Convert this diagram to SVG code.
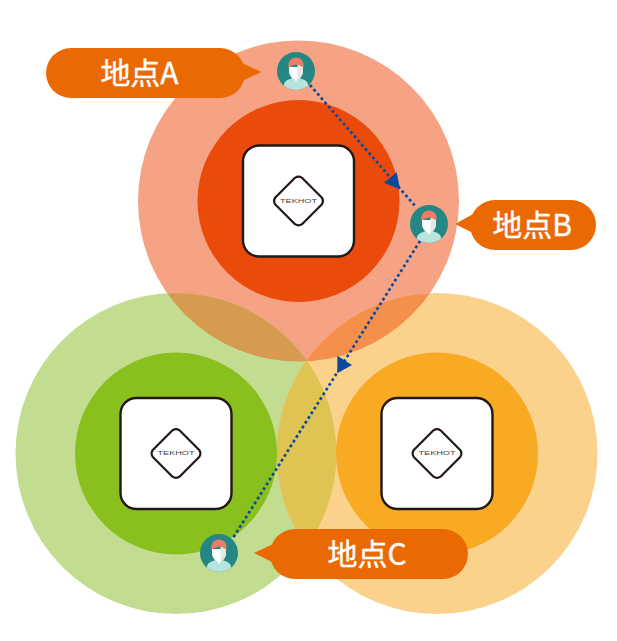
<svg xmlns="http://www.w3.org/2000/svg" width="617" height="641" viewBox="0 0 617 641">
<style>
.bub{fill:#ea6903}
.lbl{font-family:"Noto Sans CJK JP","Noto Sans",sans-serif;font-size:30px;fill:#fff;stroke:#fff;stroke-width:.4;text-anchor:middle}
.card{fill:#fff;stroke:#231815;stroke-width:2.4}
.dia{fill:none;stroke:#231815;stroke-width:2.2;stroke-linejoin:round}
.logo{font-family:"Liberation Sans",sans-serif;font-size:4.500px;fill:#444;text-anchor:middle}
.dot{fill:none;stroke:#0a4a9e;stroke-width:2.7;stroke-dasharray:2.8 2.8}
.arr{fill:#0a4a9e}
</style>
<defs>
<clipPath id="cT"><circle cx="298.500" cy="201" r="160.500"/></clipPath>
<clipPath id="cL"><circle cx="176" cy="453.500" r="160.500"/></clipPath>
<clipPath id="cP"><circle r="19"/></clipPath>
<g id="person">
<circle r="19" fill="#248783"/>
<g clip-path="url(#cP)">
<path d="M-12 20V14C-12 10-8 8.500-3 7H3C8 8.500 12 10 12 14V20Z" fill="#b7e4dc"/>
<path d="M-3 6 0 11 3 6Z" fill="#fff"/>
<path d="M-7-4V0C-7 4-4 8-2 8H2C4 8 7 4 7 0V-4Z" fill="#fff"/>
<path d="M1.500-7 7-4V0C7 4 4 8 2 8H1.500Z" fill="#e6e6e6"/>
</g>
<path d="M-7.500-3.500C-8.500-10-4.500-13.500 0-13.500 4.500-13.500 8.500-10 7.500-3.500 5-5.500 2-6.500 0-6.500-2.500-6-5-4.500-7.500-3.500Z" fill="#ec7d68"/>
</g>
<g id="device">
<rect class="card" x="-55.500" y="-55.500" width="111" height="111" rx="16"/>
<path class="dia" d="M-3.500-23.200Q0-25.700 3.500-23.200L23.200-3.500Q25.700 0 23.200 3.500L3.500 23.200Q0 25.700-3.500 23.200L-23.200 3.500Q-25.700 0-23.200-3.500Z"/>
<rect x="-20" y="-3.500" width="40" height="7" fill="#fff"/>
<text class="logo" x="0" y="1.600" textLength="37" lengthAdjust="spacingAndGlyphs">TEKHOT</text>
</g>
</defs>
<g id="zones">
<circle cx="298.500" cy="201" r="160.500" fill="#f5a384"/>
<circle cx="176" cy="453.500" r="160.500" fill="#c3dd90"/>
<circle cx="437" cy="453.500" r="160.500" fill="#fbd28c"/>
<circle cx="176" cy="453.500" r="160.500" fill="#d69a50" clip-path="url(#cT)"/>
<circle cx="437" cy="453.500" r="160.500" fill="#f4904c" clip-path="url(#cT)"/>
<circle cx="437" cy="453.500" r="160.500" fill="#dfc453" clip-path="url(#cL)"/>
<circle cx="298.500" cy="201" r="101" fill="#ea4b0b"/>
<circle cx="176" cy="453.500" r="101" fill="#8ac01d"/>
<circle cx="437" cy="453.500" r="101" fill="#f8aa22"/>
</g>
<g id="device-a"><use href="#device" transform="translate(298.500 201)"/></g>
<g id="device-b"><use href="#device" transform="translate(176 453.500)"/></g>
<g id="device-c"><use href="#device" transform="translate(437 453.500)"/></g>
<g id="connectors">
<path class="dot" d="M310 85 416 207"/>
<path class="dot" d="M420 241 233 538"/>
<path class="arr" d="M384 182.700 396.700 172.300 400 189.300Z"/>
<path class="arr" d="M337.300 355.700 352 365 337.300 373.300Z"/>
</g>
<g id="point-a">
<use href="#person" transform="translate(296 71)"/>
<rect class="bub" x="46" y="48" width="199" height="50" rx="25"/>
<path class="bub" d="M242 63 261.500 72 242 81Z"/>
<text class="lbl" x="139.500" y="84">地点A</text>
</g>
<g id="point-b">
<use href="#person" transform="translate(429 224)"/>
<rect class="bub" x="470" y="200" width="126" height="50" rx="25"/>
<path class="bub" d="M474 213.500 455 224 474 233.500Z"/>
<text class="lbl" x="532" y="236">地点B</text>
</g>
<g id="point-c">
<use href="#person" transform="translate(219 553)"/>
<rect class="bub" x="270" y="529" width="198" height="50" rx="25"/>
<path class="bub" d="M273 544 254 553 273 562.500Z"/>
<text class="lbl" x="367" y="565">地点C</text>
</g>
</svg>
